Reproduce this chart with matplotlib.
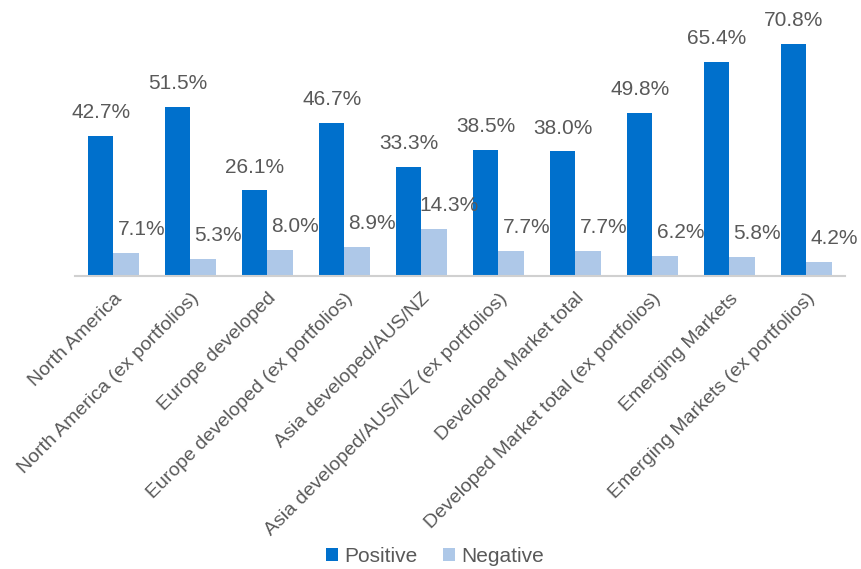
import matplotlib.pyplot as plt
import numpy as np

categories = ["North America", "North America (ex portfolios)", "Europe developed",
              "Europe developed (ex portfolios)", "Asia developed/AUS/NZ",
              "Asia developed/AUS/NZ (ex portfolios)", "Developed Market total",
              "Developed Market total (ex portfolios)", "Emerging Markets",
              "Emerging Markets (ex portfolios)"]
positive = [42.7, 51.5, 26.1, 46.7, 33.3, 38.5, 38.0, 49.8, 65.4, 70.8]
negative = [7.1, 5.3, 8.0, 8.9, 14.3, 7.7, 7.7, 6.2, 5.8, 4.2]

plt.rcParams['font.family'] = ['Liberation Sans', 'DejaVu Sans']
gray = "#595959"

fig = plt.figure(figsize=(8.61, 5.69), dpi=100)
ax = fig.add_axes([0.0871, 0.5149, 0.8943, 0.485])

x = np.arange(len(categories))
w = 0.325
ax.bar(x - w / 2, positive, w, color="#0070CC", label="Positive")
ax.bar(x + w / 2, negative, w, color="#AEC8E8", label="Negative")

for i in range(len(categories)):
    ax.annotate(f"{positive[i]:.1f}%", (x[i] - w / 2, positive[i]), xytext=(0, 10),
                textcoords="offset points", ha="center", va="bottom",
                fontsize=15, color=gray)
    ax.annotate(f"{negative[i]:.1f}%", (x[i] + w / 2, negative[i]), xytext=(11, 10),
                textcoords="offset points", ha="center", va="bottom",
                fontsize=15, color=gray)

ax.set_xlim(-0.5, len(categories) - 0.5)
ax.set_ylim(0, 84.2)
ax.set_yticks([])
ax.set_xticks(x)
ax.set_xticklabels(categories, rotation=45, ha="right", rotation_mode="anchor",
                   fontsize=14, color=gray)
ax.tick_params(axis="x", length=0, pad=10)
for s in ["top", "right", "left"]:
    ax.spines[s].set_visible(False)
ax.spines["bottom"].set_color("#D0D0D0")
ax.spines["bottom"].set_linewidth(1.5)

fig.legend(loc="lower center", bbox_to_anchor=(0.505, -0.028), ncol=2, frameon=False,
           fontsize=15, labelcolor=gray, handlelength=0.6, handleheight=0.6,
           handletextpad=0.3, columnspacing=1.2)

fig.savefig("out.png", dpi=100)
